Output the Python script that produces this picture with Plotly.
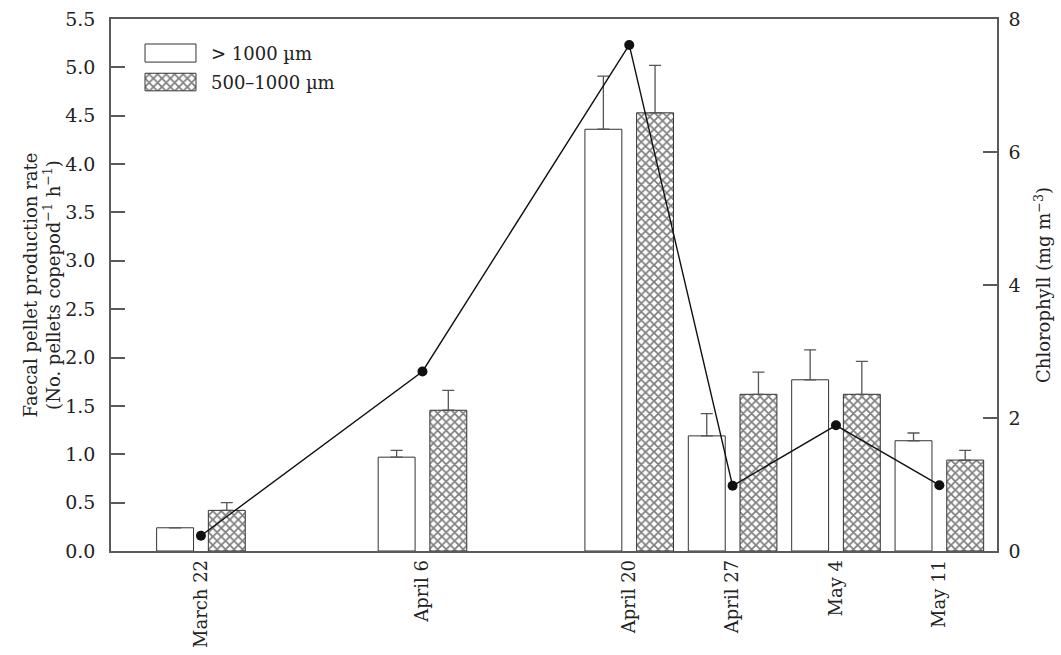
import plotly.graph_objects as go

# ---- data ----
dates = ["2000-03-22", "2000-04-06", "2000-04-20", "2000-04-27", "2000-05-04", "2000-05-11"]
date_labels = ["March 22", "April 6", "April 20", "April 27", "May 4", "May 11"]
large_rate = [0.24, 0.97, 4.36, 1.19, 1.77, 1.14]      # > 1000 µm
large_err = [0.0, 0.07, 0.55, 0.23, 0.31, 0.08]
medium_rate = [0.42, 1.455, 4.53, 1.62, 1.62, 0.94]   # 500–1000 µm
medium_err = [0.08, 0.205, 0.49, 0.23, 0.34, 0.10]
chlorophyll = [0.23, 2.70, 7.61, 0.98, 1.89, 0.99]    # mg m-3
y_ticks = [0, 0.5, 1, 1.5, 2, 2.5, 3, 3.5, 4, 4.5, 5, 5.5]
y2_ticks = [0, 2, 4, 6, 8]
series_names = ["> 1000 µm", "500–1000 µm"]

DAY = 86400000
FONT = "DejaVu Serif"
AX = "#5a5a5a"
EDGE = "#333333"
HATCH = dict(shape="x", fgcolor="#000000", bgcolor="white", size=6, solidity=0.5)

fig = go.Figure()
fig.add_trace(go.Bar(
    x=dates, y=large_rate, name=series_names[0], showlegend=False,
    width=2.5 * DAY, offset=-3.0 * DAY,
    marker=dict(color="white", line=dict(color=EDGE, width=1)),
    error_y=dict(type="data", symmetric=False, array=large_err,
                 arrayminus=[0] * len(large_err), color="#555555", thickness=1.3, width=6),
))
fig.add_trace(go.Bar(
    x=dates, y=medium_rate, name=series_names[1], showlegend=False,
    width=2.5 * DAY, offset=0.5 * DAY,
    marker=dict(color="white", line=dict(color=EDGE, width=1), pattern=HATCH),
    error_y=dict(type="data", symmetric=False, array=medium_err,
                 arrayminus=[0] * len(medium_err), color="#555555", thickness=1.3, width=6),
))
fig.add_trace(go.Scatter(
    x=dates, y=chlorophyll, yaxis="y2", mode="lines+markers", showlegend=False,
    line=dict(color="#111111", width=1.4),
    marker=dict(color="#111111", size=10),
))

# ---- legend (wide swatches drawn on a hidden overlay axis in plot-area fractions) ----
legend_x = [0.0384, 0.0959]
legend_rows = [(0.919, 0.953), (0.865, 0.898)]
for i, (y0, y1) in enumerate(legend_rows):
    fig.add_trace(go.Scatter(
        x=[legend_x[0], legend_x[1], legend_x[1], legend_x[0], legend_x[0]],
        y=[y0, y0, y1, y1, y0], xaxis="x3", yaxis="y3",
        mode="lines", fill="toself", fillcolor="white",
        fillpattern=HATCH if i == 1 else None,
        line=dict(color=EDGE, width=1), showlegend=False, hoverinfo="skip",
    ))
    fig.add_annotation(x=0.111, y=(y0 + y1) / 2, xref="paper", yref="paper",
                       text=series_names[i], showarrow=False, xanchor="left", yanchor="middle",
                       font=dict(family=FONT, size=18, color="#222222"))

fig.update_layout(
    width=1061, height=655,
    margin=dict(l=111, r=64, t=19, b=104),
    paper_bgcolor="white", plot_bgcolor="white",
    font=dict(family=FONT, size=18, color="#222222"),
    barmode="overlay",
    showlegend=False,
    xaxis=dict(
        type="date", range=["2000-03-15 21:50", "2000-05-14 21:40"],
        tickmode="array", tickvals=dates, ticktext=date_labels, tickangle=-90,
        ticks="", showline=True, linecolor=AX, linewidth=1.5, mirror=True,
        showgrid=False, zeroline=False, tickfont=dict(size=18), automargin=False,
    ),
    yaxis=dict(
        range=[0, 5.5], tickmode="array", tickvals=y_ticks,
        ticktext=[f"{v:.1f}" for v in y_ticks],
        ticks="inside", ticklen=14, tickcolor=AX, tickwidth=1.5, ticklabelstandoff=10,
        showline=True, linecolor=AX, linewidth=1.5, showgrid=False, zeroline=False,
        tickfont=dict(size=19), automargin=False,
        title=dict(text="Faecal pellet production rate<br>(No. pellets copepod<sup>−1</sup> h<sup>−1</sup>)",
                   font=dict(size=18), standoff=0),
    ),
    yaxis2=dict(
        range=[0, 8], overlaying="y", side="right", tickmode="array", tickvals=y2_ticks,
        ticks="inside", ticklen=14, tickcolor=AX, tickwidth=1.5, ticklabelstandoff=6,
        showline=True, linecolor=AX, linewidth=1.5, showgrid=False, zeroline=False,
        tickfont=dict(size=19), automargin=False,
        title=dict(text="Chlorophyll (mg m<sup>−3</sup>)", font=dict(size=18), standoff=18),
    ),
    xaxis3=dict(overlaying="x", range=[0, 1], visible=False, fixedrange=True),
    yaxis3=dict(overlaying="y", range=[0, 1], visible=False, fixedrange=True),
)

fig.write_html("out.html", config={"displayModeBar": False},
               post_script="document.body.style.margin='0';")
